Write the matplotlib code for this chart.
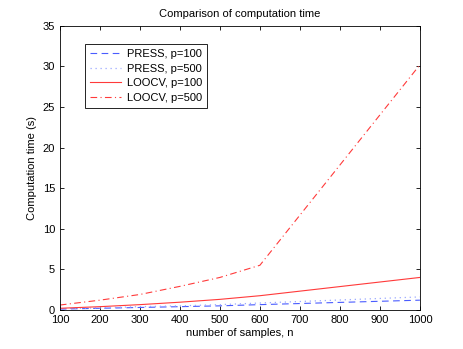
import matplotlib
matplotlib.use('Agg')
import matplotlib.pyplot as plt

# sample sizes and timings (s)
n = [100, 200, 300, 400, 500, 600, 1000]
press100 = [0.1, 0.2, 0.3, 0.4, 0.5, 0.65, 1.2]
press500 = [0.15, 0.25, 0.4, 0.5, 0.65, 0.85, 1.6]
loocv100 = [0.2, 0.4, 0.65, 0.95, 1.3, 1.75, 4.0]
loocv500 = [0.6, 1.2, 1.9, 2.9, 4.0, 5.5, 30.2]

plt.rcParams['font.family'] = ['Liberation Sans', 'DejaVu Sans']
plt.rcParams['font.size'] = 8

fig = plt.figure(figsize=(4.64, 3.49), dpi=100)
ax = fig.add_axes([0.129, 0.112, 0.776, 0.814])

blue = '#4a5cff'
red = '#ff3a3a'
ax.plot(n, press100, color=blue, linestyle=(0, (6, 4)), lw=0.8, label='PRESS, p=100')
ax.plot(n, press500, color='#9aa8ff', linestyle=(0, (1, 3)), lw=0.9, label='PRESS, p=500')
ax.plot(n, loocv100, color=red, linestyle='-', lw=0.8, label='LOOCV, p=100')
ax.plot(n, loocv500, color=red, linestyle=(0, (6, 3, 1, 3)), lw=0.8, label='LOOCV, p=500')

ax.set_xlim(100, 1000)
ax.set_ylim(0, 35)
ax.set_xticks(range(100, 1001, 100))
ax.set_yticks(range(0, 36, 5))
ax.tick_params(direction='in', length=3, width=0.6, top=True, right=True)
for s in ax.spines.values():
    s.set_linewidth(0.6)

ax.set_title('Comparison of computation time', fontsize=8)
ax.set_xlabel('number of samples, n', fontsize=8, labelpad=2)
ax.set_ylabel('Computation time (s)', fontsize=8, labelpad=4)

leg = ax.legend(loc='upper left', bbox_to_anchor=(0.07, 0.935), borderaxespad=0,
                fancybox=False, framealpha=1, edgecolor='black', handlelength=2.8,
                borderpad=0.45, labelspacing=0.4, handletextpad=0.5, fontsize=8)
leg.get_frame().set_linewidth(0.6)

fig.savefig('out.png', dpi=100)
